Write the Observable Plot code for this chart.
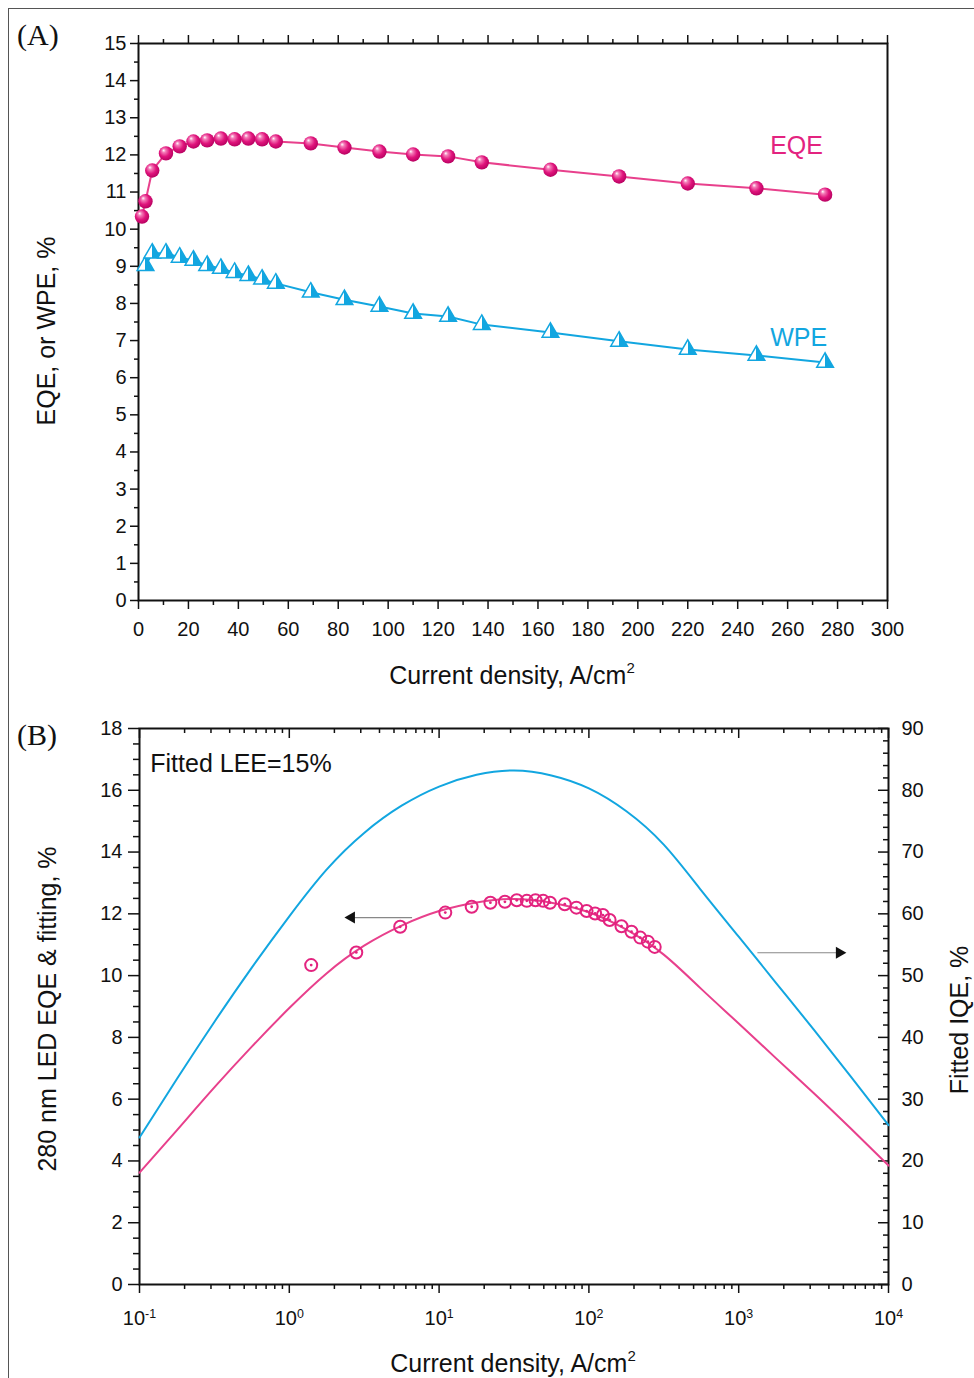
<!DOCTYPE html>
<html><head><meta charset="utf-8">
<script src="https://cdn.jsdelivr.net/npm/d3@7"></script>
<script src="https://cdn.jsdelivr.net/npm/@observablehq/plot@0.6"></script>
<style>
body{margin:0;background:#fff;}
#fig{position:relative;width:974px;height:1378px;overflow:hidden;background:#fff;font-family:"Liberation Sans",Arial,sans-serif;}
#border{position:absolute;left:8px;top:8px;width:1100px;height:1500px;border-left:1.5px solid #555;border-top:1.5px solid #555;}
.panel{position:absolute;left:0;}
</style></head><body><div id="fig"><div id="border"></div></div>
<script>
// ---------- data ----------
const J = [1.4, 2.8, 5.5, 11, 16.5, 22, 27.5, 33, 38.5, 44, 49.5, 55, 69, 82.5, 96.5, 110, 124, 137.5, 165, 192.5, 220, 247.5, 275];
const eqe = [10.34, 10.75, 11.58, 12.04, 12.23, 12.36, 12.39, 12.44, 12.42, 12.44, 12.42, 12.36, 12.31, 12.2, 12.09, 12.01, 11.96, 11.8, 11.6, 11.42, 11.23, 11.1, 10.93];
const Jwpe = [2.8, 5.5, 11, 16.5, 22, 27.5, 33, 38.5, 44, 49.5, 55, 69, 82.5, 96.5, 110, 124, 137.5, 165, 192.5, 220, 247.5, 275];
const wpe = [9.02, 9.35, 9.35, 9.24, 9.16, 9.02, 8.94, 8.83, 8.75, 8.65, 8.54, 8.3, 8.1, 7.92, 7.73, 7.65, 7.43, 7.22, 6.98, 6.76, 6.6, 6.41];
const fitJ = [0.1, 0.178, 0.316, 0.562, 1, 1.78, 3.16, 5.62, 10, 17.8, 31.6, 56.2, 100, 178, 316, 562, 1000, 1778, 3162, 5623, 10000];
const fitEQE = [3.62, 5.0, 6.38, 7.7, 8.95, 10.08, 10.97, 11.62, 12.09, 12.37, 12.48, 12.36, 12.05, 11.49, 10.68, 9.57, 8.45, 7.32, 6.2, 5.04, 3.85];
const fitIQE = [23.8, 33.3, 42.5, 51.3, 59.6, 67.2, 73.1, 77.5, 80.6, 82.5, 83.2, 82.4, 80.3, 76.6, 71.2, 63.8, 56.3, 48.8, 41.3, 33.6, 25.8];
const xTicksA = [0, 20, 40, 60, 80, 100, 120, 140, 160, 180, 200, 220, 240, 260, 280, 300];
const yTicksA = [0, 1, 2, 3, 4, 5, 6, 7, 8, 9, 10, 11, 12, 13, 14, 15];
const yTicksB = [0, 2, 4, 6, 8, 10, 12, 14, 16, 18];
const iqeTicks = [0, 10, 20, 30, 40, 50, 60, 70, 80, 90];
const decades = [0.1, 1, 10, 100, 1000, 10000];
const labelsA = [{t: "EQE", x: 253, y: 12.25, c: "magenta"}, {t: "WPE", x: 253, y: 7.06, c: "cyan"}];
const labelsB = [{t: "Fitted LEE=15%", x: 0.118, y: 16.86}];
const arrowsB = [{x1: 6.6, x2: 2.6, y: 11.88, rot: -90}, {x1: 1333, x2: 4700, y: 10.74, rot: 90}];

// ---------- styling ----------
const MAG = "#e3237f", MAGL = "#e8408c", CYA = "#12a6e0";
const font = '"Liberation Sans", Arial, sans-serif';
const minorA = d3.range(0.5, 15, 1);
const xMinorA = d3.range(10, 300, 20);
const yMinorB = d3.range(0, 37).map(i => i / 2).filter(v => v % 2 !== 0);
const iqeMinor = d3.range(0, 46).map(i => i * 2).filter(v => v % 10 !== 0);
const logMinor = [];
for (let k = -1; k <= 3; k++) for (let m = 2; m <= 9; m++) logMinor.push(m * Math.pow(10, k));
const eqeData = J.map((x, i) => ({x, y: eqe[i]}));
const wpeData = Jwpe.map((x, i) => ({x, y: wpe[i]}));
const fitData = fitJ.map((x, i) => ({x, eqe: fitEQE[i], iqe: fitIQE[i]}));
const colorOf = c => c === "magenta" ? MAG : CYA;

const fig = document.getElementById("fig");

// ---------- Panel A ----------
const pA = Plot.plot({
  width: 974, height: 700,
  marginLeft: 138, marginRight: 87, marginTop: 43, marginBottom: 100,
  style: {fontFamily: font, fontSize: "20px", color: "#111", background: "transparent", overflow: "visible"},
  x: {domain: [0, 300]},
  y: {domain: [0, 15]},
  marks: [
    Plot.axisY({ticks: yTicksA, tickSize: 8, tickPadding: 4, label: null, strokeWidth: 1.5}),
    Plot.axisY({ticks: minorA, tickSize: 4, tickFormat: () => "", label: null, strokeWidth: 1.5}),
    Plot.axisX({ticks: xTicksA, tickSize: 9, tickPadding: 12, label: null, strokeWidth: 1.5}),
    Plot.axisX({ticks: xMinorA, tickSize: 5, tickFormat: () => "", label: null, strokeWidth: 1.5}),
    Plot.axisX({anchor: "top", ticks: xTicksA, tickSize: 9, tickFormat: () => "", label: null, strokeWidth: 1.5}),
    Plot.axisX({anchor: "top", ticks: xMinorA, tickSize: 5, tickFormat: () => "", label: null, strokeWidth: 1.5}),
    Plot.frame({stroke: "#111", strokeWidth: 2}),
    Plot.line(eqeData, {x: "x", y: "y", stroke: MAGL, strokeWidth: 2}),
    Plot.line(wpeData, {x: "x", y: "y", stroke: CYA, strokeWidth: 2}),
    Plot.dot(wpeData, {x: "x", y: "y", symbol: "triangle", r: 6.2, fill: "url(#triA)", stroke: CYA, strokeWidth: 1.5}),
    Plot.dot(eqeData, {x: "x", y: "y", r: 7.2, fill: "url(#sphA)"}),
    Plot.text(labelsA, {x: "x", y: "y", text: "t", fill: d => colorOf(d.c), textAnchor: "start", fontSize: 25})
  ]
});
const svgA = d3.select(pA);
const defsA = svgA.insert("defs", ":first-child");
const rg = defsA.append("radialGradient").attr("id", "sphA").attr("cx", "45%").attr("cy", "42%").attr("r", "60%").attr("fx", "33%").attr("fy", "28%");
rg.append("stop").attr("offset", "0").attr("stop-color", "#ffffff");
rg.append("stop").attr("offset", "0.22").attr("stop-color", "#f47cb8");
rg.append("stop").attr("offset", "0.6").attr("stop-color", "#e0147c");
rg.append("stop").attr("offset", "1").attr("stop-color", "#b5005f");
const lg = defsA.append("linearGradient").attr("id", "triA").attr("x1", "0").attr("x2", "1").attr("y1", "0").attr("y2", "0");
lg.append("stop").attr("offset", "0").attr("stop-color", "#ffffff");
lg.append("stop").attr("offset", "0.5").attr("stop-color", "#ffffff");
lg.append("stop").attr("offset", "0.5").attr("stop-color", CYA);
lg.append("stop").attr("offset", "1").attr("stop-color", CYA);
svgA.append("text").attr("x", 512).attr("y", 684).attr("text-anchor", "middle").attr("font-size", 25).attr("fill", "#111")
  .call(t => { t.append("tspan").text("Current density, A/cm"); t.append("tspan").attr("dy", -11).attr("font-size", 15).text("2"); });
svgA.append("text").attr("transform", "translate(55,331) rotate(-90)").attr("text-anchor", "middle").attr("font-size", 25).attr("fill", "#111").text("EQE, or WPE, %");
svgA.append("text").attr("x", 17).attr("y", 45).attr("text-anchor", "start").attr("font-family", '"Liberation Serif", "Times New Roman", serif').attr("font-size", 30).attr("fill", "#111").text("(A)");
const divA = document.createElement("div"); divA.className = "panel"; divA.style.top = "0px"; divA.appendChild(pA); fig.appendChild(divA);

// ---------- Panel B ----------
const wB = 974 - 139 - 86, hB = 678 - 28 - 94;
const pB = Plot.plot({
  width: 974, height: 678,
  marginLeft: 139, marginRight: 86, marginTop: 28, marginBottom: 94,
  style: {fontFamily: font, fontSize: "20px", color: "#111", background: "transparent", overflow: "visible"},
  x: {type: "log", domain: [0.1, 10000]},
  y: {domain: [0, 18]},
  marks: [
    Plot.axisY({ticks: yTicksB, tickSize: 11, tickPadding: 6, label: null, strokeWidth: 1.5}),
    Plot.axisY({ticks: yMinorB, tickSize: 6, tickFormat: () => "", label: null, strokeWidth: 1.5}),
    Plot.axisY({anchor: "right", ticks: iqeTicks.map(v => v / 5), tickSize: 0, tickPadding: 13, tickFormat: d => String(Math.round(d * 5)), label: null}),
    Plot.ruleY(iqeTicks.map(v => v / 5), {y: d => d, insetLeft: wB - 10, stroke: "#111", strokeWidth: 1.5}),
    Plot.ruleY(iqeMinor.map(v => v / 5), {y: d => d, insetLeft: wB - 5, stroke: "#111", strokeWidth: 1.5}),
    Plot.axisX({ticks: decades, tickSize: 9, tickPadding: 17, tickFormat: d => "10^" + Math.round(Math.log10(d)), label: null, strokeWidth: 1.5}),
    Plot.axisX({ticks: logMinor, tickSize: 5, tickFormat: () => "", label: null, strokeWidth: 1.5}),
    Plot.ruleX(decades, {x: d => d, insetBottom: hB - 10, stroke: "#111", strokeWidth: 1.5}),
    Plot.ruleX(logMinor, {x: d => d, insetBottom: hB - 5, stroke: "#111", strokeWidth: 1.5}),
    Plot.frame({stroke: "#111", strokeWidth: 2}),
    Plot.line(fitData, {x: "x", y: d => d.iqe / 5, stroke: CYA, strokeWidth: 2, curve: "natural"}),
    Plot.line(fitData, {x: "x", y: "eqe", stroke: MAGL, strokeWidth: 2, curve: "natural"}),
    Plot.dot(eqeData, {x: "x", y: "y", r: 6, stroke: MAG, strokeWidth: 2, fill: "none"}),
    Plot.dot(eqeData, {x: "x", y: "y", r: 1.4, fill: MAG}),
    Plot.link(arrowsB, {x1: "x1", x2: "x2", y1: "y", y2: "y", stroke: "#888", strokeWidth: 1.2}),
    Plot.dot(arrowsB, {x: "x2", y: "y", symbol: "triangle", r: 4.5, rotate: "rot", fill: "#111"}),
    Plot.text(labelsB, {x: "x", y: "y", text: "t", textAnchor: "start", fontSize: 25, fill: "#111"})
  ]
});
const svgB = d3.select(pB);
svgB.selectAll('g[aria-label="x-axis tick label"] text').each(function () {
  const s = this.textContent;
  const m = /^10\^(-?\d+)$/.exec(s);
  if (!m) return;
  const el = d3.select(this);
  el.text("");
  el.append("tspan").text("10");
  el.append("tspan").attr("dy", "-0.55em").attr("font-size", "0.62em").text(m[1]);
});
svgB.append("text").attr("x", 513).attr("y", 672).attr("text-anchor", "middle").attr("font-size", 25).attr("fill", "#111")
  .call(t => { t.append("tspan").text("Current density, A/cm"); t.append("tspan").attr("dy", -11).attr("font-size", 15).text("2"); });
svgB.append("text").attr("transform", "translate(56,309) rotate(-90)").attr("text-anchor", "middle").attr("font-size", 25).attr("fill", "#111").text("280 nm LED EQE & fitting, %");
svgB.append("text").attr("transform", "translate(968,320) rotate(-90)").attr("text-anchor", "middle").attr("font-size", 25).attr("fill", "#111").text("Fitted IQE, %");
svgB.append("text").attr("x", 17).attr("y", 45).attr("text-anchor", "start").attr("font-family", '"Liberation Serif", "Times New Roman", serif').attr("font-size", 30).attr("fill", "#111").text("(B)");
const divB = document.createElement("div"); divB.className = "panel"; divB.style.top = "700px"; divB.appendChild(pB); fig.appendChild(divB);
</script></body></html>
